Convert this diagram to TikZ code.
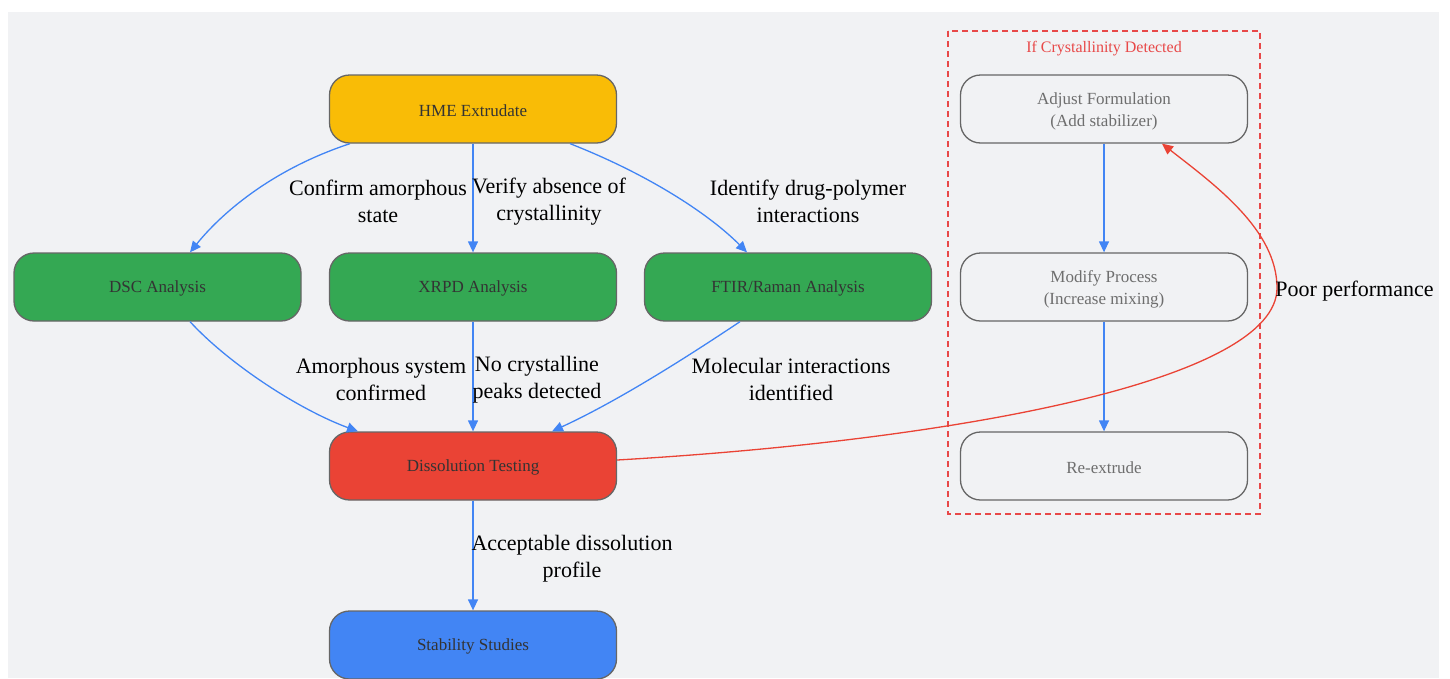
\documentclass[tikz,border=0pt]{standalone}
\usepackage{fontspec}
\setmainfont{Liberation Serif}
\usetikzlibrary{arrows.meta}
\definecolor{bg}{HTML}{F1F2F4}
\definecolor{gyellow}{HTML}{F9BC06}
\definecolor{ggreen}{HTML}{34A853}
\definecolor{gred}{HTML}{EA4335}
\definecolor{gblue}{HTML}{4285F4}
\definecolor{stroke}{HTML}{666666}
\definecolor{ntext}{HTML}{333333}
\definecolor{gtext}{HTML}{6E6E6E}
\definecolor{dred}{HTML}{E84848}
\newcommand{\twolines}[2]{\raisebox{-2pt}[\height][\depth]{\begin{tabular}{@{}c@{}}#1\\#2\end{tabular}}}
\newcommand{\oneline}[1]{\raisebox{-1.5pt}[\height][\depth]{#1}}
\tikzset{
  box/.style={draw=stroke, line width=1.3pt, rounded corners=20pt, minimum width=287pt, minimum height=68pt, inner sep=0pt, align=center, font=\fontsize{17}{22}\selectfont, text=ntext},
  gbox/.style={box, fill=bg, text=gtext},
  link/.style={draw=gblue, line width=1.3pt, -{Triangle[length=11pt,width=10pt]}},
  redlink/.style={draw=gred, line width=1.3pt, -{Triangle[length=11pt,width=10pt]}},
  elabel/.style={align=center, inner sep=0pt, font=\fontsize{22}{27}\selectfont, text=black},
}
\begin{document}
\begin{tikzpicture}[x=1pt, y=-1pt]
\useasboundingbox (0,0) rectangle (1450,678);
\fill[white] (0,0) rectangle (1450,678);
\fill[bg] (8,12) rectangle (1439,678);
% cluster
\draw[dred, line width=1.2pt, dash pattern=on 6pt off 4pt] (948,31) rectangle (1260,514);
\node[text=dred, font=\fontsize{16}{18}\selectfont] (ctitle) at (1104,49) {If Crystallinity Detected};
% nodes
\node[box, fill=gyellow] (hme) at (473,109) {\oneline{HME Extrudate}};
\node[box, fill=ggreen] (dsc) at (157.5,287) {\oneline{DSC Analysis}};
\node[box, fill=ggreen] (xrpd) at (473,287) {\oneline{XRPD Analysis}};
\node[box, fill=ggreen] (ftir) at (788,287) {\oneline{FTIR/Raman Analysis}};
\node[box, fill=gred] (diss) at (473,466) {\oneline{Dissolution Testing}};
\node[box, fill=gblue] (stab) at (473,645) {\oneline{Stability Studies}};
\node[gbox] (adj) at (1104,109) {\twolines{Adjust Formulation}{(Add stabilizer)}};
\node[gbox] (mod) at (1104,287) {\twolines{Modify Process}{(Increase mixing)}};
\node[gbox] (rex) at (1104,466) {\oneline{Re-extrude}};
% edges
\draw[link] ([xshift=-123pt]hme.south) .. controls (270,170) and (220,215) .. ([xshift=32.5pt]dsc.north);
\draw[link] (hme.south) -- (xrpd.north);
\draw[link] ([xshift=97pt]hme.south) .. controls (650,175) and (710,215) .. ([xshift=-41pt]ftir.north);
\draw[link] ([xshift=32.5pt]dsc.south) .. controls (230,365) and (300,410) .. ([xshift=-115pt]diss.north);
\draw[link] (xrpd.south) -- (diss.north);
\draw[link] ([xshift=-48pt]ftir.south) .. controls (690,355) and (620,400) .. ([xshift=79pt]diss.north);
\draw[link] (diss.south) -- (stab.north);
\draw[link] (adj.south) -- (mod.north);
\draw[link] (mod.south) -- (rex.north);
\coordinate (bend) at (1277,288);
\draw[redlink] ([yshift=6pt]diss.east) .. controls (960,440) and (1277,380) .. (bend) .. controls (1277,230) and (1215,185) .. ([xshift=58pt]adj.south);
% edge labels
\node[elabel] (l1) at (378,201.5) {Confirm amorphous\\state};
\node[elabel] (l2) at (549,201.5) {Verify absence of\\crystallinity};
\node[elabel] (l3) at (808,201.5) {Identify drug-polymer\\interactions};
\node[elabel] (l4) at (381,379.5) {Amorphous system\\confirmed};
\node[elabel] (l5) at (537,379.5) {No crystalline\\peaks detected};
\node[elabel] (l6) at (791,379.5) {Molecular interactions\\identified};
\node[elabel] (l7) at (572,559) {Acceptable dissolution\\profile};
\node[elabel] (l8) at (1354.5,291) {Poor performance};
\end{tikzpicture}
\end{document}
